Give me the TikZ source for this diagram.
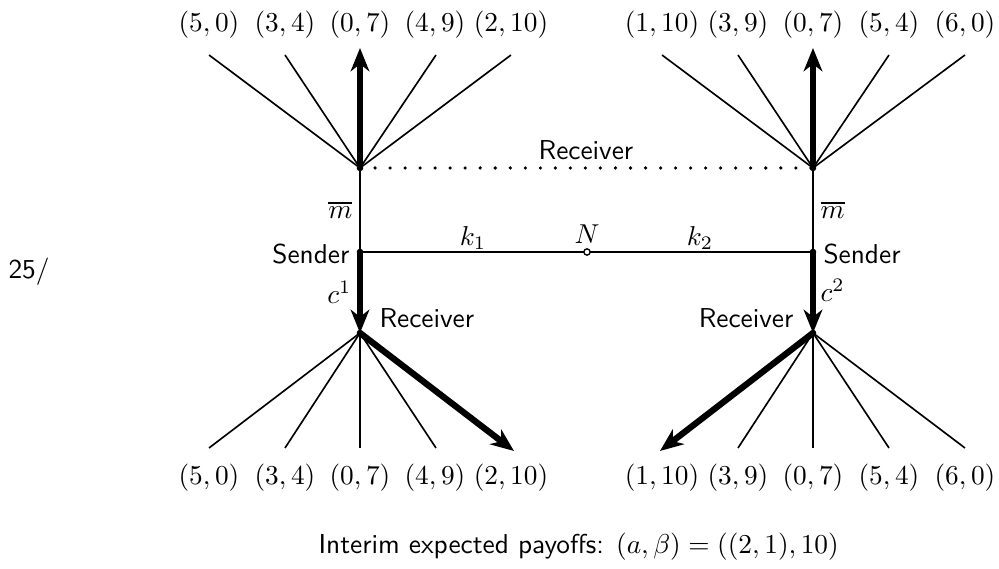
\documentclass[tikz,border=0pt]{standalone}
\usetikzlibrary{arrows.meta}
\begin{document}
\begin{tikzpicture}[x=0.366pt,y=-0.366pt,
  branch/.style={line width=0.6pt},
  choice/.style={line width=2.3pt,-{Stealth[length=8.5pt,width=6.8pt,inset=2.6pt]}},
  dotn/.style={circle,fill=black,inner sep=0pt,minimum size=2.4pt},
  chance/.style={circle,draw=black,fill=white,line width=0.5pt,inner sep=0pt,minimum size=2.3pt},
  lab/.style={font=\sffamily,inner sep=0pt},
  mlab/.style={inner sep=0pt},
  infoset/.style={line width=1.3pt,line cap=round,dash pattern=on 0pt off 5.5pt}]
\useasboundingbox (0,0) rectangle (999,569);
% decision points
\coordinate (TL) at (360,168);
\coordinate (TR) at (813,168);
\coordinate (SL) at (360,252);
\coordinate (SR) at (813,252);
\coordinate (BL) at (360,333);
\coordinate (BR) at (813,333);
\coordinate (N) at (587,252);
% top-left leaves
\coordinate (tl1) at (209,55);
\coordinate (tl2) at (285,55);
\coordinate (tl3) at (360,48);
\coordinate (tl4) at (436,55);
\coordinate (tl5) at (511,55);
% top-right leaves
\coordinate (tr1) at (662,55);
\coordinate (tr2) at (738,55);
\coordinate (tr3) at (813,48);
\coordinate (tr4) at (889,55);
\coordinate (tr5) at (965,55);
% bottom-left leaves
\coordinate (bl1) at (209,448);
\coordinate (bl2) at (285,448);
\coordinate (bl3) at (360,448);
\coordinate (bl4) at (436,448);
\coordinate (bl5) at (514,451);
% bottom-right leaves
\coordinate (br1) at (660,451);
\coordinate (br2) at (738,448);
\coordinate (br3) at (813,448);
\coordinate (br4) at (889,448);
\coordinate (br5) at (965,448);
% information set
\draw[infoset] (TL) -- (TR);
% chance move
\draw[branch] (SL) -- (N) -- (SR);
% sender moves
\draw[branch] (SL) -- (TL);
\draw[branch] (SR) -- (TR);
\draw[choice] (SL) -- (BL);
\draw[choice] (SR) -- (BR);
% receiver moves, top
\draw[branch] (TL) -- (tl1);
\draw[branch] (TL) -- (tl2);
\draw[choice] (TL) -- (tl3);
\draw[branch] (TL) -- (tl4);
\draw[branch] (TL) -- (tl5);
\draw[branch] (TR) -- (tr1);
\draw[branch] (TR) -- (tr2);
\draw[choice] (TR) -- (tr3);
\draw[branch] (TR) -- (tr4);
\draw[branch] (TR) -- (tr5);
% receiver moves, bottom
\draw[branch] (BL) -- (bl1);
\draw[branch] (BL) -- (bl2);
\draw[branch] (BL) -- (bl3);
\draw[branch] (BL) -- (bl4);
\draw[choice] (BL) -- (bl5);
\draw[choice] (BR) -- (br1);
\draw[branch] (BR) -- (br2);
\draw[branch] (BR) -- (br3);
\draw[branch] (BR) -- (br4);
\draw[branch] (BR) -- (br5);
% node dots
\node[dotn] (dTL) at (TL) {};
\node[dotn] (dTR) at (TR) {};
\node[dotn] (dSL) at (SL) {};
\node[dotn] (dSR) at (SR) {};
\node[dotn] (dBL) at (BL) {};
\node[dotn] (dBR) at (BR) {};
\node[chance] (dN) at (N) {};
% payoffs
\node[mlab] (ptl1) at (209,25) {$(5,0)$};
\node[mlab] (ptl2) at (285,25) {$(3,4)$};
\node[mlab] (ptl3) at (360,25) {$(0,7)$};
\node[mlab] (ptl4) at (435,25) {$(4,9)$};
\node[mlab] (ptl5) at (511,25) {$(2,10)$};
\node[mlab] (ptr1) at (662,25) {$(1,10)$};
\node[mlab] (ptr2) at (738,25) {$(3,9)$};
\node[mlab] (ptr3) at (813,25) {$(0,7)$};
\node[mlab] (ptr4) at (889,25) {$(5,4)$};
\node[mlab] (ptr5) at (965,25) {$(6,0)$};
\node[mlab] (pbl1) at (209,478) {$(5,0)$};
\node[mlab] (pbl2) at (285,478) {$(3,4)$};
\node[mlab] (pbl3) at (360,478) {$(0,7)$};
\node[mlab] (pbl4) at (435,478) {$(4,9)$};
\node[mlab] (pbl5) at (511,478) {$(2,10)$};
\node[mlab] (pbr1) at (662,478) {$(1,10)$};
\node[mlab] (pbr2) at (738,478) {$(3,9)$};
\node[mlab] (pbr3) at (813,478) {$(0,7)$};
\node[mlab] (pbr4) at (889,478) {$(5,4)$};
\node[mlab] (pbr5) at (965,478) {$(6,0)$};
% labels
\node[lab] (recTop) at (586,150) {Receiver};
\node[mlab,anchor=east] (mL) at (353,210) {$\overline{m}$};
\node[mlab,anchor=west] (mR) at (820,210) {$\overline{m}$};
\node[lab,anchor=east] (sendL) at (350,254) {Sender};
\node[lab,anchor=west] (sendR) at (823,254) {Sender};
\node[mlab,anchor=east] (cL) at (352,292) {$c^1$};
\node[mlab,anchor=west] (cR) at (820,290) {$c^2$};
\node[lab,anchor=west] (recBL) at (379,318) {Receiver};
\node[lab,anchor=east] (recBR) at (794,318) {Receiver};
\node[mlab] (k1) at (473,238) {$k_1$};
\node[mlab] (k2) at (700,238) {$k_2$};
\node[mlab] (Nl) at (587,234) {$N$};
\node[lab] (pg) at (29,272) {25/};
\node[lab,anchor=west] (cap) at (318,547) {Interim expected payoffs: $(a,\beta)=((2,1),10)$};
\end{tikzpicture}
\end{document}
